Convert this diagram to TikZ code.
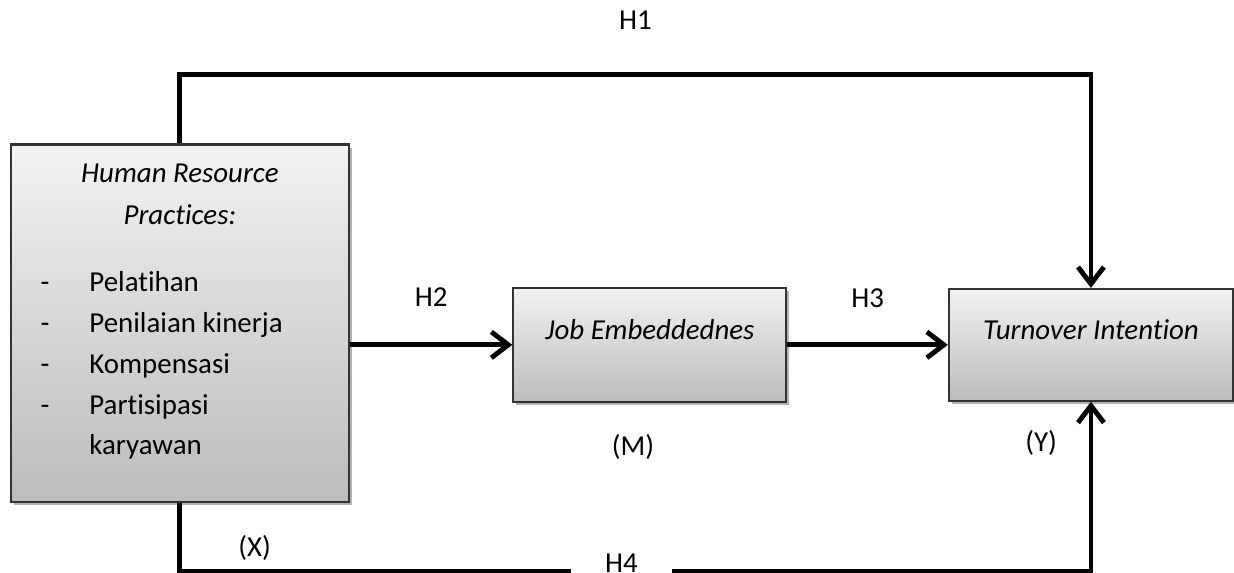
\documentclass[tikz,border=0pt]{standalone}
\usepackage{fontspec}
\setmainfont{Carlito}[Ligatures=NoCommon]
\usetikzlibrary{positioning,shadows,arrows.meta}
\tikzset{main box/.style={rectangle,draw=black!80,line width=0.6pt,top color=gray!10,bottom color=gray!53,drop shadow={shadow xshift=0.03cm,shadow yshift=-0.03cm,fill=black,opacity=0.3},font=\itshape\fontsize{8.25}{11.67}\selectfont,text height=0.2cm,text depth=0.3cm,inner sep=0pt}}
\tikzset{main line/.style={draw,line width=1.4pt}}
\tikzset{main arrow/.style={main line,-{Straight Barb[length=1.7mm,width=2.6mm]}}}

\begin{document}
\begin{tikzpicture}[font=\fontsize{8.25}{11.67}\selectfont]
            \node[main box,minimum width=3.39cm,minimum height=3.59cm] (hrp) {};
            \node[main box,minimum width=2.74cm,minimum height=1.14cm] (job) [right=1.63cm of hrp,yshift=-0.215cm] {Job Embeddednes};
            \node[main box,minimum width=2.85cm,minimum height=1.12cm] (turnover) [right=1.61cm of job] {Turnover Intention};
            \useasboundingbox ([xshift=-0.1cm,yshift=1.44cm]hrp.north west) rectangle ++(12.34,-5.75);

            \node[inner sep=0pt,align=center,font=\itshape\fontsize{8.25}{11.95}\selectfont] (hrptitle) [below=0.2cm of hrp.north] {Human Resource\\Practices:};
            \node[inner sep=0pt,anchor=north west] (hrplist) at ([xshift=0.3cm,yshift=-1.19cm]hrp.north west) {%
              \begin{tabular}{@{}l@{}}
                \makebox[0.49cm][l]{-}Pelatihan\\
                \makebox[0.49cm][l]{-}Penilaian kinerja\\
                \makebox[0.49cm][l]{-}Kompensasi\\
                \makebox[0.49cm][l]{-}Partisipasi\\
                \makebox[0.49cm][l]{}karyawan
              \end{tabular}};

            \node (xlabel) [below=0.2cm of hrp.south,xshift=0.75cm] {(X)};
            \node (mlabel) [below=0.19cm of job.south,xshift=-0.17cm] {(M)};
            \node (ylabel) [below=0.16cm of turnover.south,xshift=-0.5cm] {(Y)};
            \node[minimum width=1cm,inner sep=0pt,text depth=0.15cm] (h4) at ([xshift=4.43cm,yshift=-0.68cm]hrp.south) {H4};

            \draw[main arrow] (hrp.east |- job) -- node[above=0.24cm] (h2) {H2} (job);
            \draw[main arrow] (job) -- node[above=0.23cm] (h3) {H3} (turnover);

            \draw[main arrow] (hrp.north) -- ++(0,0.69) -| node[pos=0.25,above=0.31cm] (h1) {H1} (turnover.north);
            \draw[main line] (hrp.south) |- (h4.west);
            \draw[main arrow] (h4.east) -| (turnover.south);
        \end{tikzpicture}
\end{document}
